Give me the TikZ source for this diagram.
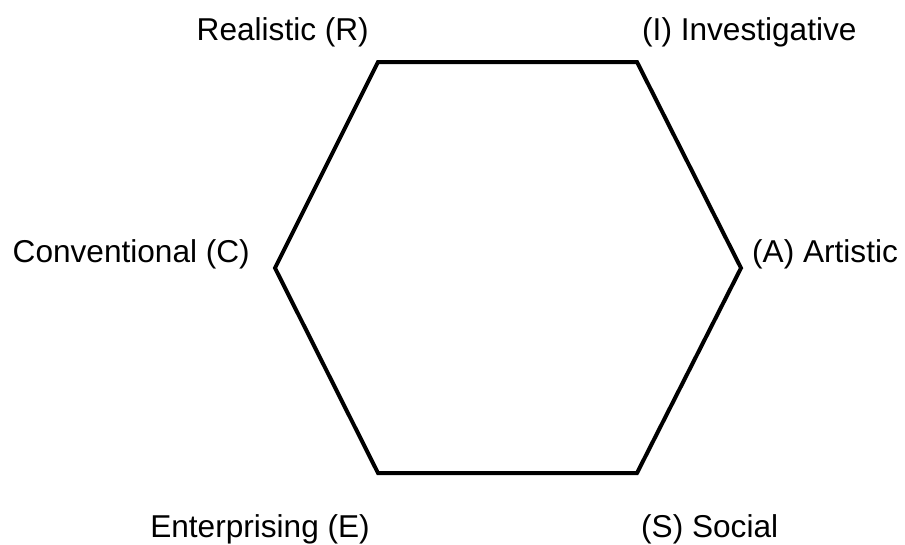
\documentclass[tikz,border=0pt]{standalone}
\usepackage{fontspec}
\setmainfont{Liberation Sans}
\usetikzlibrary{positioning}

\begin{document}
\begin{tikzpicture}[x=1pt,y=-1pt,
lbl/.style={inner sep=0pt,font=\fontsize{31.6}{36}\selectfont},
hex/.style={draw,line width=4pt,line join=miter}]
\useasboundingbox (0,0) rectangle (905,544);
% corners of the hexagon
\coordinate (R) at (378,62);
\coordinate (I) at (637,62);
\coordinate (A) at (741,268);
\coordinate (S) at (637,473);
\coordinate (E) at (378,473);
\coordinate (C) at (275,268);
\draw[hex] (R)--(I)--(A)--(S)--(E)--(C)--cycle;
% type labels
\node[lbl,anchor=base east] (realistic) at (369,40) {Realistic (R)};
\node[lbl,anchor=base west] (investigative) at (642,40) {(I) Investigative};
\node[lbl,anchor=base west] (artistic) at (752,262) {(A) Artistic};
\node[lbl,anchor=base east] (conventional) at (250,262) {Conventional (C)};
\node[lbl,anchor=base east] (enterprising) at (370,537) {Enterprising (E)};
\node[lbl,anchor=base west] (social) at (641,537) {(S) Social};
\end{tikzpicture}
\end{document}
